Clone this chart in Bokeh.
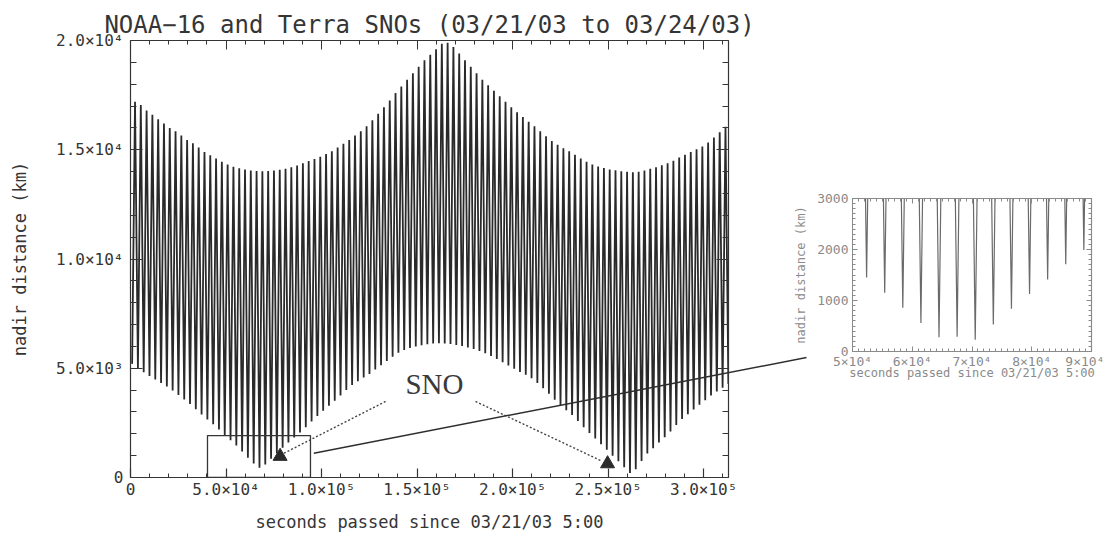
from bokeh.plotting import figure
from bokeh.models import Range1d, FixedTicker, LinearAxis, Label
from bokeh.layouts import row
from bokeh.embed import file_html
from bokeh.resources import INLINE

# ---------------- data ----------------
TITLE = "NOAA\u221216 and Terra SNOs (03/21/03 to 03/24/03)"
XLABEL = "seconds passed since 03/21/03 5:00"
YLABEL = "nadir distance (km)"

# times (s) of the closest approaches (minima) of each half orbit
dip_time = [850, 3880, 6910, 9940, 12970, 16000, 19030, 22060, 25090, 28120,
            31150, 34180, 37210, 40240, 43270, 46300, 49330, 52360, 55390, 58420,
            61450, 64480, 67510, 70540, 73570, 76600, 79630, 82660, 85690, 88720,
            91750, 94780, 97810, 100840, 103870, 106900, 109930, 112960, 115990, 119020,
            122050, 125080, 128110, 131140, 134170, 137200, 140230, 143260, 146290, 149320,
            152350, 155380, 158410, 161440, 164470, 167500, 170530, 173560, 176590, 179620,
            182650, 185680, 188710, 191740, 194770, 197800, 200830, 203860, 206890, 209920,
            212950, 215980, 219010, 222040, 225070, 228100, 231130, 234160, 237190, 240220,
            243250, 246280, 249310, 252340, 255370, 258400, 261430, 264460, 267490, 270520,
            273550, 276580, 279610, 282640, 285670, 288700, 291730, 294760, 297790, 300820,
            303850, 306880, 309910, 312940]
dip_min = [5200, 5000, 4820, 4650, 4480, 4320, 4160, 3980, 3780, 3570,
           3360, 3120, 2880, 2660, 2440, 2200, 1950, 1700, 1460, 1190,
           910, 640, 450, 600, 860, 1110, 1360, 1600, 1830, 2060,
           2300, 2560, 2810, 3050, 3280, 3510, 3750, 4000, 4230, 4410,
           4580, 4740, 4940, 5140, 5330, 5530, 5710, 5840, 5930, 6000,
           6050, 6100, 6130, 6140, 6130, 6110, 6070, 6020, 5950, 5880,
           5790, 5690, 5560, 5420, 5270, 5130, 4980, 4830, 4700, 4540,
           4330, 4090, 3830, 3560, 3280, 3080, 2860, 2590, 2300, 2040,
           1790, 1520, 1270, 1000, 740, 470, 210, 380, 760, 1100,
           1340, 1600, 1840, 2110, 2400, 2680, 2900, 3110, 3330, 3540,
           3750, 3940, 4110, 4280]
# times (s) and values of the maxima between them
peak_time = [2365, 5395, 8425, 11455, 14485, 17515, 20545, 23575, 26605, 29635,
             32665, 35695, 38725, 41755, 44785, 47815, 50845, 53875, 56905, 59935,
             62965, 65995, 69025, 72055, 75085, 78115, 81145, 84175, 87205, 90235,
             93265, 96295, 99325, 102355, 105385, 108415, 111445, 114475, 117505, 120535,
             123565, 126595, 129625, 132655, 135685, 138715, 141745, 144775, 147805, 150835,
             153865, 156895, 159925, 162955, 165985, 169015, 172045, 175075, 178105, 181135,
             184165, 187195, 190225, 193255, 196285, 199315, 202345, 205375, 208405, 211435,
             214465, 217495, 220525, 223555, 226585, 229615, 232645, 235675, 238705, 241735,
             244765, 247795, 250825, 253855, 256885, 259915, 262945, 265975, 269005, 272035,
             275065, 278095, 281125, 284155, 287185, 290215, 293245, 296275, 299305, 302335,
             305365, 308395, 311425]
peak_max = [17200, 17050, 16800, 16600, 16400, 16200, 16000, 15850, 15650, 15450,
            15300, 15100, 14900, 14750, 14600, 14450, 14320, 14220, 14150, 14100,
            14050, 14030, 14020, 14030, 14050, 14080, 14130, 14200, 14280, 14380,
            14480, 14580, 14680, 14800, 14930, 15100, 15270, 15450, 15650, 15850,
            16080, 16350, 16650, 16950, 17250, 17600, 17900, 18200, 18500, 18800,
            19100, 19350, 19600, 19850, 19900, 19700, 19400, 19100, 18800, 18500,
            18200, 17950, 17700, 17450, 17200, 16950, 16720, 16500, 16280, 16080,
            15850, 15620, 15400, 15230, 15070, 14930, 14770, 14600, 14450, 14330,
            14230, 14160, 14100, 14060, 14020, 13990, 13970, 13990, 14050, 14130,
            14200, 14290, 14380, 14500, 14640, 14770, 14900, 15020, 15150, 15330,
            15560, 15800, 16050]

# inset (finer sampling near the first SNO)
inset_dip_time = [52360, 55390, 58420, 61450, 64480, 67510, 70540,
                  73570, 76600, 79630, 82660, 85690, 88720]
inset_dip_min = [1450, 1150, 860, 560, 280, 290, 230,
                 530, 840, 1130, 1410, 1710, 1990]

# SNO events (triangles)
sno_time = [78300, 249700]
sno_dist = [970, 630]

# tick labels
x_ticks = [0, 50000, 100000, 150000, 200000, 250000, 300000]
x_tick_labels = ["0", "5.0\u00d710\u2074", "1.0\u00d710\u2075", "1.5\u00d710\u2075",
                 "2.0\u00d710\u2075", "2.5\u00d710\u2075", "3.0\u00d710\u2075"]
y_ticks = [0, 5000, 10000, 15000, 20000]
y_tick_labels = ["0", "5.0\u00d710\u00b3", "1.0\u00d710\u2074", "1.5\u00d710\u2074", "2.0\u00d710\u2074"]
ix_ticks = [50000, 60000, 70000, 80000, 90000]
ix_tick_labels = ["5\u00d710\u2074", "6\u00d710\u2074", "7\u00d710\u2074", "8\u00d710\u2074", "9\u00d710\u2074"]
iy_ticks = [0, 1000, 2000, 3000]
iy_tick_labels = ["0", "1000", "2000", "3000"]

# ---------------- annotation geometry (not data) ----------------
zoom_box = dict(left=[40300], right=[94200], bottom=[0], top=[1920])
pointer_x0 = [133500, 180600]
pointer_y0 = [3480, 3480]
pointer_x1 = [80100, 246000]
pointer_y1 = [1100, 780]
sno_label_xy = (159100, 4300)
conn_main_x = [95940, 353830]
conn_main_y = [1112, 5492]
conn_inset_x = [-40157, 42301]
conn_inset_y = [-1994, -118]

MONO = "DejaVu Sans Mono"
INK = "#353535"
LIGHT = "#8a8a8a"


def build_series(times_a, vals_a, times_b, vals_b, override=None):
    pts = [(t, v) for t, v in zip(times_a, vals_a)] + [(t, v) for t, v in zip(times_b, vals_b)]
    if override:
        pts = [(t, override.get(t, v)) for t, v in pts]
    pts.sort()
    return [q[0] for q in pts], [q[1] for q in pts]


def style_axis(ax, color, tick_in, minor_in, font_size, label_size, std, lab_std):
    ax.axis_line_color = color
    ax.axis_line_width = 1.2
    ax.major_tick_line_color = color
    ax.minor_tick_line_color = color
    ax.major_tick_line_width = 1.2
    ax.major_tick_in = tick_in
    ax.major_tick_out = 0
    ax.minor_tick_in = minor_in
    ax.minor_tick_out = 0
    ax.major_label_text_font = MONO
    ax.major_label_text_font_size = font_size
    ax.major_label_text_color = color
    ax.major_label_standoff = std
    ax.axis_label_text_font = MONO
    ax.axis_label_text_font_size = label_size
    ax.axis_label_text_font_style = "normal"
    ax.axis_label_text_color = color
    ax.axis_label_standoff = lab_std


def hidden_axis(ticker, color, tick_in, minor_in):
    ax = LinearAxis(ticker=ticker)
    ax.axis_line_color = color
    ax.axis_line_width = 1.2
    ax.major_tick_line_color = color
    ax.minor_tick_line_color = color
    ax.major_tick_in = tick_in
    ax.major_tick_out = 0
    ax.minor_tick_in = minor_in
    ax.minor_tick_out = 0
    ax.major_label_text_color = None
    ax.major_label_text_font_size = "1px"
    ax.major_label_standoff = 0
    return ax


# ---------------- main figure ----------------
p = figure(width=790, height=535, x_range=Range1d(0, 313000), y_range=Range1d(0, 20000),
           output_backend="svg", toolbar_location=None, frame_align=False,
           min_border_left=130, min_border_right=62, min_border_top=40, min_border_bottom=58,
           title=TITLE, x_axis_label=XLABEL, y_axis_label=YLABEL)
p.title.text_font = MONO
p.title.text_font_size = "24px"
p.title.text_font_style = "normal"
p.title.text_color = INK
p.title.align = "center"
p.title.standoff = 4
p.grid.visible = False
p.outline_line_color = None
p.background_fill_color = "white"
p.border_fill_color = "white"

x_ticker = FixedTicker(ticks=x_ticks, minor_ticks=list(range(0, 313001, 10000)))
y_ticker = FixedTicker(ticks=y_ticks, minor_ticks=list(range(0, 20001, 1000)))
p.xaxis.ticker = x_ticker
p.yaxis.ticker = y_ticker
p.xaxis.major_label_overrides = dict(zip(x_ticks, x_tick_labels))
p.yaxis.major_label_overrides = dict(zip(y_ticks, y_tick_labels))
style_axis(p.xaxis[0], INK, 9, 4, "16px", "17px", 2, 10)
style_axis(p.yaxis[0], INK, 12, 6, "16px", "17px", 7, 23)
p.add_layout(hidden_axis(x_ticker, INK, 9, 4), "above")
p.add_layout(hidden_axis(y_ticker, INK, 12, 6), "right")

mx, my = build_series(dip_time, dip_min, peak_time, peak_max)
p.line(mx, my, line_color="#2a2a2a", line_width=1.8)

p.quad(fill_color=None, line_color=INK, line_width=1.3, **zoom_box)
p.segment(x0=pointer_x0, y0=pointer_y0, x1=pointer_x1, y1=pointer_y1,
          line_color="#444444", line_width=1.4, line_dash="2 2")
p.scatter(sno_time, sno_dist, marker="triangle", size=14, fill_color="#2a2a2a", line_color="#2a2a2a")
p.add_layout(Label(x=sno_label_xy[0], y=sno_label_xy[1], text="SNO", text_font="Liberation Serif",
                   text_font_size="29px", text_color="#3a3a3a", text_align="center",
                   text_baseline="middle"))
p.line(conn_main_x, conn_main_y, line_color="#2e2e2e", line_width=1.5, level="overlay")

# ---------------- inset figure ----------------
ins = figure(width=314, height=535, x_range=Range1d(50000, 90000), y_range=Range1d(0, 3000),
             output_backend="svg", toolbar_location=None, frame_align=False,
             min_border_left=62, min_border_right=13, min_border_top=198, min_border_bottom=184,
             x_axis_label=XLABEL, y_axis_label=YLABEL)
ins.grid.visible = False
ins.outline_line_color = None
ins.background_fill_color = "white"
ins.border_fill_color = "white"
ix_ticker = FixedTicker(ticks=ix_ticks, minor_ticks=list(range(50000, 90001, 1000)))
iy_ticker = FixedTicker(ticks=iy_ticks, minor_ticks=list(range(0, 3001, 100)))
ins.xaxis.ticker = ix_ticker
ins.yaxis.ticker = iy_ticker
ins.xaxis.major_label_overrides = dict(zip(ix_ticks, ix_tick_labels))
ins.yaxis.major_label_overrides = dict(zip(iy_ticks, iy_tick_labels))
style_axis(ins.xaxis[0], LIGHT, 5, 3, "13px", "12px", 2, -6)
style_axis(ins.yaxis[0], LIGHT, 5, 3, "13px", "12px", 4, 6)
for ax in (ins.xaxis[0], ins.yaxis[0]):
    ax.axis_line_width = 1
    ax.major_tick_line_width = 1
ins.add_layout(hidden_axis(ix_ticker, LIGHT, 5, 3), "above")
ins.add_layout(hidden_axis(iy_ticker, LIGHT, 5, 3), "right")

ix, iy = build_series(dip_time, dip_min, peak_time, peak_max,
                      override=dict(zip(inset_dip_time, inset_dip_min)))
ins.line(ix, iy, line_color="#6a6a6a", line_width=1.2)
ins.line(conn_inset_x, conn_inset_y, line_color="#2e2e2e", line_width=1.5, level="overlay")

layout = row(p, ins)
open("out.html", "w").write(file_html(layout, INLINE))
